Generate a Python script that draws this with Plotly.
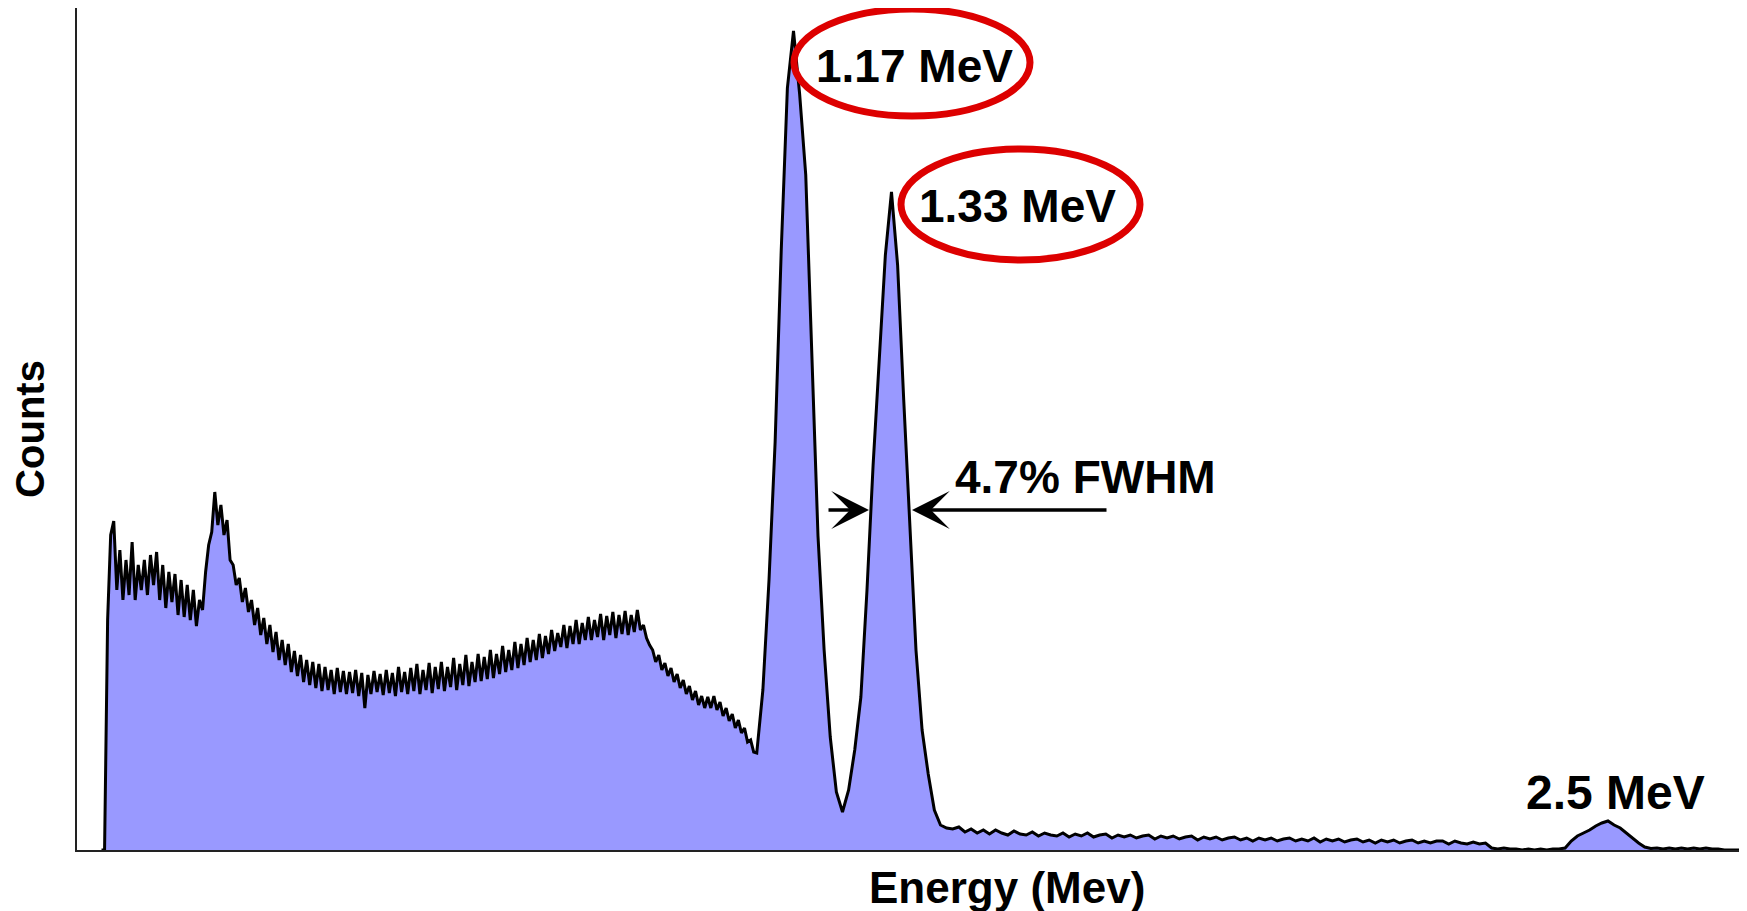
import plotly.graph_objects as go

# ---- data ----
# low-energy part (Compton region), channels of 0.005 MeV starting at 0.040 MeV
LOW_START, LOW_STEP = 0.040, 0.005
low_counts = [
    0, 0, 2300, 3150, 3290, 2600, 3000, 2500, 2900, 2550,             # 0.040-0.085
    3080, 2500, 2850, 2600, 2900, 2550, 2950, 2650, 2980, 2500,       # 0.090-0.135
    2850, 2420, 2780, 2480, 2760, 2350, 2700, 2330, 2650, 2300,       # 0.140-0.185
    2600, 2240, 2500, 2400, 2780, 3050, 3180, 3580, 3250, 3450,       # 0.190-0.235
    3150, 3300, 2900, 2850, 2650, 2720, 2480, 2620, 2380, 2500,       # 0.240-0.285
    2250, 2420, 2150, 2320, 2060, 2250, 1980, 2180, 1900, 2100,       # 0.290-0.335
    1850, 2060, 1780, 1990, 1740, 1950, 1680, 1900, 1650, 1880,       # 0.340-0.385
    1620, 1860, 1590, 1830, 1600, 1800, 1560, 1820, 1580, 1790,       # 0.390-0.435
    1560, 1780, 1570, 1800, 1540, 1770, 1420, 1750, 1560, 1790,       # 0.440-0.485
    1580, 1760, 1550, 1800, 1570, 1770, 1540, 1830, 1580, 1780,       # 0.490-0.535
    1560, 1820, 1590, 1860, 1560, 1800, 1600, 1870, 1570, 1830,       # 0.540-0.585
    1610, 1880, 1590, 1830, 1630, 1920, 1600, 1860, 1650, 1950,       # 0.590-0.635
    1640, 1880, 1680, 1960, 1690, 1930, 1710, 2000, 1720, 1960,       # 0.640-0.685
    1760, 2040, 1780, 2000, 1800, 2080, 1820, 2060, 1850, 2120,       # 0.690-0.735
    1880, 2100, 1900, 2160, 1920, 2140, 1960, 2200, 1990, 2170,       # 0.740-0.785
    2030, 2250, 2020, 2240, 2060, 2300, 2060, 2270, 2100, 2330,       # 0.790-0.835
    2100, 2300, 2130, 2360, 2100, 2340, 2150, 2380, 2120, 2350,       # 0.840-0.885
    2160, 2390, 2150, 2350, 2180, 2400, 2200, 2250, 2120, 2050,       # 0.890-0.935
    2000, 1880, 1950, 1800, 1870, 1740, 1820, 1680, 1760, 1620,       # 0.940-0.985
    1700, 1560, 1640, 1500, 1590, 1450, 1540, 1420, 1530, 1420,       # 0.990-1.035
    1540, 1400, 1480, 1340, 1420, 1290, 1360, 1220, 1300, 1170,       # 1.040-1.085
    1220, 1080, 1100, 980,                                            # 1.090-1.105
]

# photopeaks and above, channels of 0.01 MeV starting at 1.11 MeV
HIGH_START, HIGH_STEP = 1.11, 0.01
high_counts = [
    970, 1600, 2700, 4080, 6000, 7620, 8190, 7560, 6750, 4900,        # 1.11-1.20
    3140, 2000, 1130, 580, 380, 600, 1000, 1530, 2600, 3850,          # 1.21-1.30
    4950, 5950, 6580, 5850, 4500, 3250, 2000, 1200, 760, 400,         # 1.31-1.40
    250, 220, 210,                                                    # 1.41-1.43
    230, 180, 210, 170, 200, 160, 200, 170, 150, 190,                 # 1.44-1.53
    160, 150, 180, 140, 170, 150, 140, 170, 130, 160,                 # 1.54-1.63
    140, 170, 130, 150, 160, 120, 150, 130, 150, 120,                 # 1.64-1.73
    140, 150, 110, 140, 120, 140, 110, 130, 140, 100,                 # 1.74-1.83
    130, 110, 130, 100, 120, 130, 100, 120, 90, 120,                  # 1.84-1.93
    100, 120, 90, 110, 120, 90, 110, 90, 120, 80,                     # 1.94-2.03
    110, 90, 110, 80, 100, 110, 80, 100, 70, 100,                     # 2.04-2.13
    80, 100, 70, 90, 100, 70, 90, 70, 90, 90,                         # 2.14-2.23
    60, 90, 70, 60, 80, 60, 70, 20, 10, 20,                           # 2.24-2.33
    10, 10, 0, 10, 0, 10, 0, 10, 10, 20,                              # 2.34-2.43
    90, 140, 170, 200, 240, 270, 290, 250, 220, 170,                  # 2.44-2.53
    120, 70, 30, 15, 20, 10, 20, 10, 20, 10,                          # 2.54-2.63
    20, 10, 20, 10, 10, 0, 0, 0, 0,                                   # 2.64-2.72
]

energy = ([round(LOW_START + LOW_STEP * i, 3) for i in range(len(low_counts))]
          + [round(HIGH_START + HIGH_STEP * i, 2) for i in range(len(high_counts))])
counts = low_counts + high_counts

peak_labels = ["1.17 MeV", "1.33 MeV", "2.5 MeV"]
fwhm_label = "4.7% FWHM"
x_title = "Energy (Mev)"
y_title = "Counts"

# ---- figure ----
# page geometry (the page body has an 8px margin)
PAGE_W, PAGE_H, BODY = 1747, 911, 8
PLOT_L, PLOT_R, PLOT_T, PLOT_B = 77, 1747, 8, 850   # plot area in page pixels
W, H = PAGE_W - BODY, PAGE_H - BODY
L, T = PLOT_L - BODY, PLOT_T - BODY
R = PAGE_W - PLOT_R
B = PAGE_H - PLOT_B
pw, ph = PLOT_R - PLOT_L, PLOT_B - PLOT_T


def px(xp):
    return (xp - PLOT_L) / pw


def py(yp):
    return (PLOT_B - yp) / ph


FONT = "Liberation Sans, Arial, sans-serif"

fig = go.Figure(
    go.Scatter(
        x=energy, y=counts, mode="lines",
        line=dict(color="black", width=3),
        fill="tozeroy", fillcolor="#9999ff",
        hoverinfo="x+y", showlegend=False,
    )
)

ann = []


def label(text, xc, yc, size):
    ann.append(dict(text=text, x=px(xc), y=py(yc), xref="paper", yref="paper",
                    showarrow=False, xanchor="center", yanchor="middle",
                    font=dict(family=FONT, size=size, color="black", weight="bold")))


label(peak_labels[0], 914, 66, 46)
label(peak_labels[1], 1017, 206, 46)
label(fwhm_label, 1085, 477, 46)
label(peak_labels[2], 1615, 792, 48)
label(x_title, 1007, 887, 44)

# FWHM arrows
ann.append(dict(text="", x=px(869), y=py(510), xref="paper", yref="paper",
                showarrow=True, ax=-42, ay=0, arrowhead=3, arrowsize=1.8,
                arrowwidth=3.5, arrowcolor="black", standoff=0))
ann.append(dict(text="", x=px(912), y=py(510), xref="paper", yref="paper",
                showarrow=True, ax=196, ay=0, arrowhead=3, arrowsize=1.8,
                arrowwidth=3.5, arrowcolor="black", standoff=0))

shapes = [
    dict(type="circle", xref="paper", yref="paper",
         x0=px(794), x1=px(1030), y0=py(116), y1=py(9),
         line=dict(color="#dd0000", width=7)),
    dict(type="circle", xref="paper", yref="paper",
         x0=px(901), x1=px(1140), y0=py(260), y1=py(149),
         line=dict(color="#dd0000", width=7)),
]

fig.update_layout(
    width=W, height=H,
    margin=dict(l=L, r=R, t=T, b=B, pad=0),
    paper_bgcolor="white", plot_bgcolor="white",
    annotations=ann, shapes=shapes,
    xaxis=dict(range=[0, 2.727], showgrid=False, zeroline=False,
               showticklabels=False, ticks="", showline=True,
               linecolor="#222222", linewidth=2),
    yaxis=dict(range=[0, 8420], showgrid=False, zeroline=False,
               showticklabels=False, ticks="", showline=True,
               linecolor="#222222", linewidth=2,
               title=dict(text=y_title, standoff=26,
                          font=dict(family=FONT, size=40, color="black", weight="bold"))),
)

fig.write_html("out.html")
